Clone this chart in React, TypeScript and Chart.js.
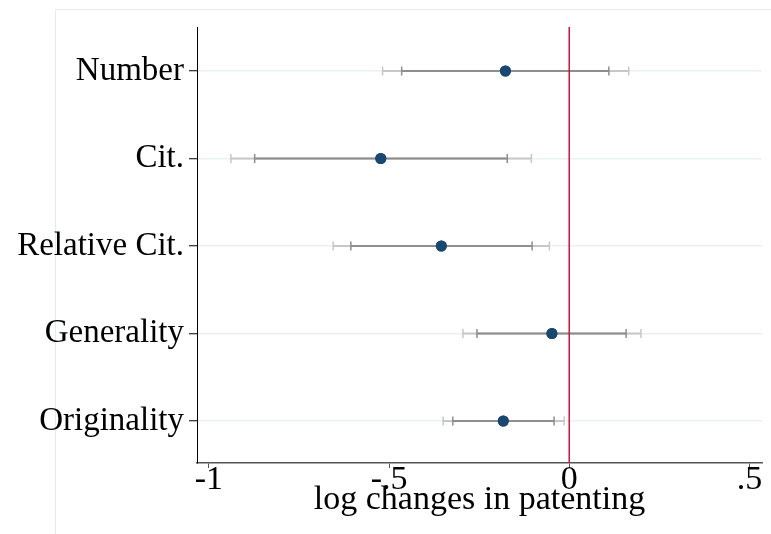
import React, { useEffect, useRef } from "react";
import { Chart, registerables } from "chart.js";

Chart.register(...registerables);

const categories = ["Number", "Cit.", "Relative Cit.", "Generality", "Originality"];
const estimates = [-0.177, -0.523, -0.355, -0.048, -0.183];
const ci90Low = [-0.465, -0.873, -0.606, -0.256, -0.323];
const ci90High = [0.11, -0.172, -0.103, 0.158, -0.042];
const ci95Low = [-0.518, -0.939, -0.655, -0.295, -0.35];
const ci95High = [0.165, -0.105, -0.055, 0.199, -0.014];
const xTicks = [-1, -0.5, 0, 0.5];
const xTitle = "log changes in patenting";

const FONT = "'Liberation Serif', 'Times New Roman', serif";
const C95 = "#c6c8c8";
const C90 = "#8e8e8e";
const NAVY = "#1a476f";
const RED = "#c8153f";

const fmtTick = (v: number) => {
  if (v === 0) return "0";
  const s = String(Math.abs(v)).replace(/^0/, "");
  return (v < 0 ? "-" : "") + s;
};

const decorPlugin = {
  id: "decor",
  beforeDraw(chart: any) {
    const ctx = chart.ctx;
    ctx.save();
    ctx.strokeStyle = "#e4ecee";
    ctx.lineWidth = 1;
    ctx.beginPath();
    ctx.moveTo(55.5, chart.height);
    ctx.lineTo(55.5, 9.5);
    ctx.lineTo(chart.width, 9.5);
    ctx.stroke();
    ctx.restore();
  },
  afterDatasetsDraw(chart: any) {
    const ctx = chart.ctx;
    const xs = chart.scales.x;
    const ys = chart.scales.y;
    const area = chart.chartArea;
    ctx.save();
    const caps = (lo: number[], hi: number[], color: string) => {
      ctx.strokeStyle = color;
      ctx.lineWidth = 1.5;
      categories.forEach((_, i) => {
        const y = ys.getPixelForValue(i);
        [lo[i], hi[i]].forEach((v) => {
          const x = xs.getPixelForValue(v);
          ctx.beginPath();
          ctx.moveTo(x, y - 4.5);
          ctx.lineTo(x, y + 4.5);
          ctx.stroke();
        });
      });
    };
    caps(ci95Low, ci95High, C95);
    caps(ci90Low, ci90High, C90);
    const x0 = xs.getPixelForValue(0);
    ctx.strokeStyle = RED;
    ctx.lineWidth = 1.5;
    ctx.beginPath();
    ctx.moveTo(x0, area.top);
    ctx.lineTo(x0, area.bottom);
    ctx.stroke();
    const meta = chart.getDatasetMeta(2);
    meta.data.forEach((pt: any) => {
      ctx.fillStyle = NAVY;
      ctx.beginPath();
      ctx.arc(pt.x, pt.y, 5.5, 0, Math.PI * 2);
      ctx.fill();
    });
    ctx.restore();
  },
};

export default function App() {
  const ref = useRef<HTMLCanvasElement>(null);
  useEffect(() => {
    if (!ref.current) return;
    const chart = new Chart(ref.current, {
      type: "bar",
      data: {
        datasets: [
          {
            type: "bar",
            label: "95% CI",
            data: categories.map((_, i) => ({ x: [ci95Low[i], ci95High[i]], y: i })) as any,
            backgroundColor: C95,
            barThickness: 1.5,
            grouped: false,
            order: 3,
          } as any,
          {
            type: "bar",
            label: "90% CI",
            data: categories.map((_, i) => ({ x: [ci90Low[i], ci90High[i]], y: i })) as any,
            backgroundColor: C90,
            barThickness: 1.5,
            grouped: false,
            order: 2,
          } as any,
          {
            type: "scatter",
            label: "Estimate",
            data: categories.map((_, i) => ({ x: estimates[i], y: i })),
            backgroundColor: NAVY,
            borderWidth: 0,
            pointRadius: 5.5,
            order: 1,
          } as any,
        ],
      },
      options: {
        indexAxis: "y",
        animation: false,
        responsive: false,
        layout: { padding: { top: 27, right: 9, left: 0, bottom: 0 } },
        plugins: { legend: { display: false }, tooltip: { enabled: false } },
        scales: {
          x: {
            type: "linear",
            min: -1.033,
            max: 0.535,
            offset: false,
            afterBuildTicks: (s: any) => {
              s.ticks = xTicks.map((v) => ({ value: v }));
            },
            afterFit: (s: any) => {
              s.height = 71;
            },
            ticks: {
              callback: (v: any) => fmtTick(Number(v)),
              font: { family: FONT, size: 34, lineHeight: 1 },
              color: "#000",
              padding: -5,
              maxRotation: 0,
              autoSkip: false,
            },
            grid: { offset: false, drawOnChartArea: false, drawTicks: true, tickLength: 5, tickColor: "#555", tickWidth: 1 },
            border: { display: true, color: "#555", width: 1.5 },
            title: {
              display: true,
              text: xTitle,
              font: { family: FONT, size: 34, lineHeight: 1.2 },
              color: "#000",
              padding: { top: 0, bottom: 14 },
            },
          },
          y: {
            type: "linear",
            reverse: true,
            min: -0.503,
            max: 4.48,
            offset: false,
            afterBuildTicks: (s: any) => {
              s.ticks = categories.map((_, i) => ({ value: i }));
            },
            afterFit: (s: any) => {
              s.width = 197;
            },
            ticks: {
              callback: (v: any) => categories[Number(v)] ?? "",
              font: { family: FONT, size: 33 },
              color: "#000",
              padding: 5,
              labelOffset: 0,
              autoSkip: false,
            },
            grid: { offset: false, color: "#eaf1f3", lineWidth: 1.5, drawTicks: true, tickLength: 8, tickColor: "#000", tickWidth: 1 },
            border: { display: true, color: "#000", width: 1 },
          },
        },
      } as any,
      plugins: [decorPlugin],
    });
    return () => chart.destroy();
  }, []);
  return (
    <div style={{ position: "absolute", left: 0, top: 0, width: 771, height: 534, background: "#fff" }}>
      <canvas ref={ref} width={771} height={534} style={{ width: 771, height: 534 }} />
    </div>
  );
}
